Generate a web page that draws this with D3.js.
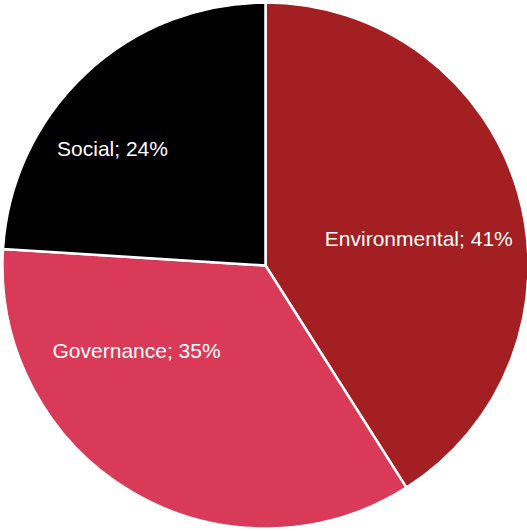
<!DOCTYPE html>
<html><head><meta charset="utf-8">
<script src="https://cdn.jsdelivr.net/npm/d3@7"></script>
<style>html,body{margin:0;padding:0;background:#fff;}</style>
</head><body>
<svg id="chart" width="527" height="531"></svg>
<script>
const categories = ["Environmental", "Governance", "Social"];
const values = [41, 35, 24];
const colors = ["#A31F22", "#D83A57", "#000000"];

const layout = {cx: 265.5, cy: 265.5, r: 263, fontSize: 21,
  labelShift: [[27, 10], [-62, -28], [-63, -21]]};

const svg = d3.select("#chart");
const g = svg.append("g").attr("transform", `translate(${layout.cx},${layout.cy})`);
const pie = d3.pie().sort(null).value(d => d.v);
const data = pie(categories.map((c, i) => ({c, v: values[i], i})));
const arc = d3.arc().innerRadius(0).outerRadius(layout.r);
const color = d3.scaleOrdinal().domain(categories).range(colors);

g.selectAll("path").data(data).join("path")
  .attr("d", arc)
  .attr("fill", d => color(d.data.c))
  .attr("stroke", "#fff").attr("stroke-width", 2.5).attr("stroke-linejoin", "round");

g.selectAll("text").data(data).join("text")
  .attr("x", d => arc.centroid(d)[0] + layout.labelShift[d.data.i][0])
  .attr("y", d => arc.centroid(d)[1] + layout.labelShift[d.data.i][1])
  .attr("text-anchor", "middle").attr("dominant-baseline", "central")
  .attr("font-family", "Arial, 'Liberation Sans', sans-serif")
  .attr("font-size", layout.fontSize).attr("fill", "#fff")
  .text(d => `${d.data.c}; ${d.data.v}%`);
</script>
</body></html>
